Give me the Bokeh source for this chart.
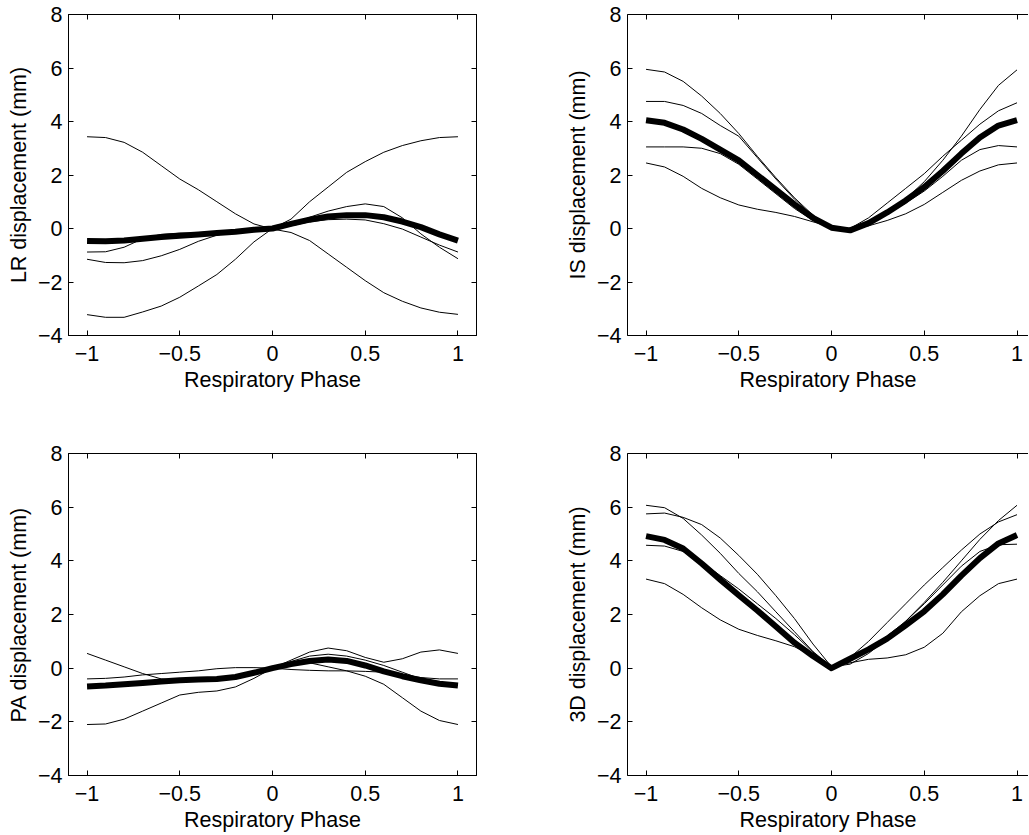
from bokeh.plotting import figure
from bokeh.models import Range1d, LinearAxis, FixedTicker, ColumnDataSource
from bokeh.layouts import column, row
from bokeh.embed import file_html
from bokeh.resources import INLINE

phase = [-1.0, -0.9, -0.8, -0.7, -0.6, -0.5, -0.4, -0.3, -0.2, -0.1, 0.0,
         0.1, 0.2, 0.3, 0.4, 0.5, 0.6, 0.7, 0.8, 0.9, 1.0]

x_ticks = [-1, -0.5, 0, 0.5, 1]
x_tick_labels = ["\u22121", "\u22120.5", "0", "0.5", "1"]
y_ticks = [-4, -2, 0, 2, 4, 6, 8]
y_tick_labels = ["\u22124", "\u22122", "0", "2", "4", "6", "8"]

# LR
lr_1 = [3.43, 3.40, 3.22, 2.85, 2.35, 1.85, 1.45, 1.00, 0.55, 0.17, -0.02,
        -0.15, -0.45, -0.95, -1.45, -1.95, -2.40, -2.72, -2.97, -3.13, -3.21]
lr_2 = [-3.22, -3.32, -3.32, -3.12, -2.90, -2.57, -2.15, -1.72, -1.15, -0.50, 0.00,
        0.35, 1.00, 1.55, 2.10, 2.50, 2.85, 3.10, 3.28, 3.40, 3.43]
lr_3 = [-1.15, -1.27, -1.28, -1.20, -1.02, -0.78, -0.48, -0.25, -0.12, -0.05, 0.00,
        0.15, 0.42, 0.65, 0.82, 0.92, 0.82, 0.40, -0.20, -0.70, -1.13]
lr_4 = [-0.88, -0.87, -0.70, -0.38, -0.22, -0.17, -0.17, -0.13, -0.07, -0.03, 0.00,
        0.10, 0.25, 0.33, 0.35, 0.32, 0.18, -0.02, -0.32, -0.62, -0.88]
lr_mean = [-0.47, -0.48, -0.45, -0.38, -0.32, -0.27, -0.22, -0.17, -0.12, -0.05, 0.00,
           0.17, 0.33, 0.45, 0.50, 0.50, 0.42, 0.26, 0.05, -0.22, -0.45]

# IS
is_1 = [5.95, 5.85, 5.50, 4.95, 4.30, 3.55, 2.70, 1.90, 1.15, 0.50, 0.05,
        -0.05, 0.15, 0.55, 1.10, 1.75, 2.55, 3.45, 4.45, 5.35, 5.93]
is_2 = [4.75, 4.75, 4.60, 4.30, 3.85, 3.45, 2.65, 1.85, 1.10, 0.45, 0.05,
        0.00, 0.40, 0.95, 1.50, 2.05, 2.70, 3.30, 3.90, 4.40, 4.70]
is_3 = [3.05, 3.05, 3.05, 3.00, 2.80, 2.40, 1.85, 1.30, 0.75, 0.30, 0.00,
        -0.05, 0.20, 0.55, 0.95, 1.40, 1.95, 2.55, 2.95, 3.10, 3.05]
is_4 = [2.45, 2.30, 1.95, 1.50, 1.15, 0.88, 0.72, 0.60, 0.45, 0.25, 0.05,
        0.00, 0.10, 0.30, 0.55, 0.90, 1.35, 1.80, 2.15, 2.38, 2.45]
is_mean = [4.05, 3.95, 3.70, 3.35, 2.95, 2.55, 2.00, 1.45, 0.90, 0.40, 0.03,
           -0.07, 0.20, 0.60, 1.05, 1.55, 2.15, 2.80, 3.40, 3.85, 4.05]

# PA
pa_1 = [0.55, 0.30, 0.05, -0.20, -0.40, -0.45, -0.45, -0.40, -0.30, -0.15, 0.00,
        0.30, 0.60, 0.75, 0.65, 0.40, 0.22, 0.35, 0.60, 0.68, 0.55]
pa_2 = [-0.40, -0.38, -0.33, -0.25, -0.20, -0.15, -0.10, -0.02, 0.02, 0.02, 0.00,
        -0.05, -0.08, -0.10, -0.10, -0.12, -0.15, -0.25, -0.35, -0.40, -0.40]
pa_3 = [-2.10, -2.08, -1.90, -1.60, -1.30, -1.00, -0.90, -0.85, -0.70, -0.38, 0.00,
        0.15, 0.20, 0.05, -0.10, -0.30, -0.60, -1.10, -1.60, -1.95, -2.10]
pa_4 = [-0.65, -0.62, -0.58, -0.52, -0.48, -0.45, -0.42, -0.40, -0.32, -0.15, 0.00,
        0.25, 0.45, 0.52, 0.45, 0.30, 0.10, -0.15, -0.40, -0.58, -0.65]
pa_mean = [-0.68, -0.65, -0.60, -0.55, -0.50, -0.45, -0.42, -0.40, -0.33, -0.17, 0.00,
           0.15, 0.27, 0.32, 0.27, 0.10, -0.12, -0.30, -0.45, -0.58, -0.65]

# 3D
d3_1 = [6.07, 5.98, 5.58, 4.96, 4.28, 3.53, 2.85, 2.10, 1.36, 0.62, 0.05,
        0.15, 0.55, 1.10, 1.75, 2.45, 3.20, 4.00, 4.80, 5.50, 6.07]
d3_2 = [5.75, 5.78, 5.62, 5.35, 4.85, 4.20, 3.50, 2.70, 1.85, 0.90, 0.05,
        0.40, 1.00, 1.70, 2.40, 3.10, 3.75, 4.40, 5.00, 5.45, 5.72]
d3_3 = [4.58, 4.55, 4.35, 3.95, 3.45, 2.95, 2.40, 1.85, 1.25, 0.60, 0.00,
        0.25, 0.70, 1.20, 1.75, 2.40, 3.10, 3.80, 4.35, 4.60, 4.62]
d3_4 = [3.32, 3.15, 2.75, 2.25, 1.80, 1.45, 1.22, 1.02, 0.80, 0.45, 0.05,
        0.20, 0.33, 0.38, 0.50, 0.78, 1.30, 2.10, 2.70, 3.15, 3.32]
d3_mean = [4.92, 4.78, 4.46, 3.90, 3.30, 2.72, 2.15, 1.55, 0.95, 0.45, 0.00,
           0.35, 0.70, 1.10, 1.60, 2.12, 2.75, 3.45, 4.10, 4.65, 4.96]

FONT = "Liberation Sans"
FS = "21.5px"


def style_axis(ax, show_labels, standoff=6):
    ax.axis_line_color = "black"
    ax.axis_line_width = 1
    ax.major_tick_in = 5
    ax.major_tick_out = 0
    ax.major_tick_line_color = "black"
    ax.minor_tick_line_color = None
    ax.major_label_text_font = FONT
    ax.major_label_text_color = "black"
    ax.axis_label_text_font = FONT
    ax.axis_label_text_font_style = "normal"
    ax.axis_label_text_font_size = FS
    ax.axis_label_text_color = "black"
    if show_labels:
        ax.major_label_text_font_size = FS
        ax.major_label_standoff = standoff
        ax.axis_label_standoff = 4
    else:
        ax.major_label_text_font_size = "1px"
        ax.major_label_text_color = None
        ax.major_label_standoff = 0


def make_panel(series, mean, ylabel, left_col, top_row):
    if left_col:
        xr = Range1d(-1.1, 1.1)
        fw = 408
        mbl, mbr = 68, 38
    else:
        xr = Range1d(-1.1, 1.062)
        fw = 401
        mbl, mbr = 113, 0
    if top_row:
        fh = 321
        mbt, mbb = 14, 85
    else:
        fh = 322
        mbt, mbb = 33, 58
    p = figure(frame_width=fw, frame_height=fh, x_range=xr, y_range=Range1d(-4, 8),
               output_backend="svg", toolbar_location=None,
               min_border_left=mbl, min_border_right=mbr,
               min_border_top=mbt, min_border_bottom=mbb,
               background_fill_color="white", border_fill_color="white")
    p.xgrid.visible = False
    p.ygrid.visible = False
    p.outline_line_color = "black" if left_col else None
    p.outline_line_width = 1

    p.xaxis.ticker = FixedTicker(ticks=x_ticks)
    p.xaxis.major_label_overrides = dict(zip(x_ticks, x_tick_labels))
    p.yaxis.ticker = FixedTicker(ticks=y_ticks)
    p.yaxis.major_label_overrides = dict(zip(y_ticks, y_tick_labels))
    p.xaxis.axis_label = "Respiratory Phase"
    p.yaxis.axis_label = ylabel
    style_axis(p.xaxis[0], True, standoff=10)
    style_axis(p.yaxis[0], True, standoff=6)

    top = LinearAxis(ticker=FixedTicker(ticks=x_ticks))
    style_axis(top, False)
    p.add_layout(top, "above")
    if left_col:
        right = LinearAxis(ticker=FixedTicker(ticks=y_ticks))
        style_axis(right, False)
        p.add_layout(right, "right")

    for s in series:
        src = ColumnDataSource(dict(x=phase, y=s))
        p.line("x", "y", source=src, line_color="black", line_width=1,
               line_join="round")
    msrc = ColumnDataSource(dict(x=phase, y=mean))
    p.line("x", "y", source=msrc, line_color="black", line_width=6,
           line_join="round", line_cap="butt")
    return p


p1 = make_panel([lr_1, lr_2, lr_3, lr_4], lr_mean, "LR displacement (mm)", True, True)
p2 = make_panel([is_1, is_2, is_3, is_4], is_mean, "IS displacement (mm)", False, True)
p3 = make_panel([pa_1, pa_2, pa_3, pa_4], pa_mean, "PA displacement (mm)", True, False)
p4 = make_panel([d3_1, d3_2, d3_3, d3_4], d3_mean, "3D displacement (mm)", False, False)

layout = column(row(p1, p2), row(p3, p4))
open("out.html", "w").write(file_html(layout, INLINE))
